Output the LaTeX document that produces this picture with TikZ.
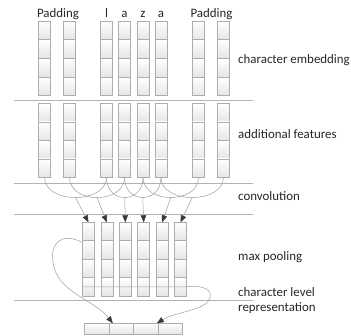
\documentclass[tikz,border=0pt]{standalone}
\usepackage{fontspec}
\setmainfont{Carlito}
\usetikzlibrary{arrows.meta,calc}
\begin{document}
\begin{tikzpicture}[x=1pt,y=-1pt,
  cell/.style={draw=black!32, line width=0.5pt, top color=white, bottom color=black!10,
    minimum width=12pt, inner sep=0pt, outer sep=0pt, anchor=north west},
  sepline/.style={draw=black!30, line width=0.6pt},
  conn/.style={draw=black!38, line width=0.5pt},
  arr/.style={conn, -{Triangle[length=7pt,width=5.5pt,color=black!78]}},
  lbl/.style={font=\fontsize{12.9}{14.5}\selectfont, inner sep=0pt, text=black!85},
]
\useasboundingbox (0,0) rectangle (351,336);

% layer separators
\foreach \yy in {100.3,183.3,214,300}
  \draw[sepline] (14,\yy) -- (253,\yy);

% character embedding (e) and additional features (f) columns
\foreach \xx [count=\i] in {38.5,63.5,100.5,118.5,137,155,192.5,217.5} {
  \foreach \r in {0,...,3} {
    \node[cell, minimum height=18.675pt] (e\i-\r) at (\xx,{21+\r*18.675}) {};
    \node[cell, minimum height=18.5pt] (f\i-\r) at (\xx,{103.3+\r*18.5}) {};
  }
}

% max pooling columns (p)
\foreach \xx [count=\i] in {82.5,100.9,119.3,137.7,156.1,174.5} {
  \foreach \r in {0,...,3}
    \node[cell, minimum height=18.4pt] (p\i-\r) at (\xx,{222.3+\r*18.4}) {};
}

% character level representation (r)
\foreach \xx [count=\i] in {84.3,108.8,133.3,157.8}
  \node[cell, minimum width=24.5pt, minimum height=10.7pt] (r\i) at (\xx,323.3) {};

% column labels
\node[lbl, anchor=base] (padL) at (58,17.7) {Padding};
\node[lbl, anchor=base] (padR) at (211.5,17.7) {Padding};
\node[lbl, anchor=base] (c1) at (106.5,17.7) {l};
\node[lbl, anchor=base] (c2) at (124.5,17.7) {a};
\node[lbl, anchor=base] (c3) at (143,17.7) {z};
\node[lbl, anchor=base] (c4) at (161,17.7) {a};

% layer labels
\node[lbl, anchor=base west] (l1) at (238,64) {character embedding};
\node[lbl, anchor=base west] (l2) at (238,138.3) {additional features};
\node[lbl, anchor=base west] (l3) at (238,200.5) {convolution};
\node[lbl, anchor=base west] (l4) at (238,260.5) {max pooling};
\node[lbl, anchor=base west, align=left] (l5) at (238,311.5) {character level\\representation};

% convolution: windows of three columns joined by arcs
\foreach \a/\b/\k in {1/3/1,2/4/2,3/5/3,4/6/4,5/7/5,6/8/6} {
  \draw[conn] (f\a-3.south) .. controls +(0,27) and +(0,27) .. (f\b-3.south)
    coordinate[pos=0.5] (m\k);
  \draw[arr] (m\k) -- (p\k-0.north);
}

% max pooling to the representation
\draw[arr] (p1-0.west) ++(0,11) coordinate (ls)
  (ls) .. controls (60,231) and (50,245) .. (53,262)
       .. controls (56,292) and (95,300) .. ([xshift=4pt]r2.north west);
\coordinate (rs) at ($(p1-3.north west)+(0,9.3)$);
\coordinate (re) at ($(p6-3.north east)+(0,9.3)$);
\draw[arr] (rs) -- (re) .. controls (205,285) and (212,290) .. (210,298)
       .. controls (207,310) and (175,312) .. ([xshift=-1pt]r4.north west);
\end{tikzpicture}
\end{document}
